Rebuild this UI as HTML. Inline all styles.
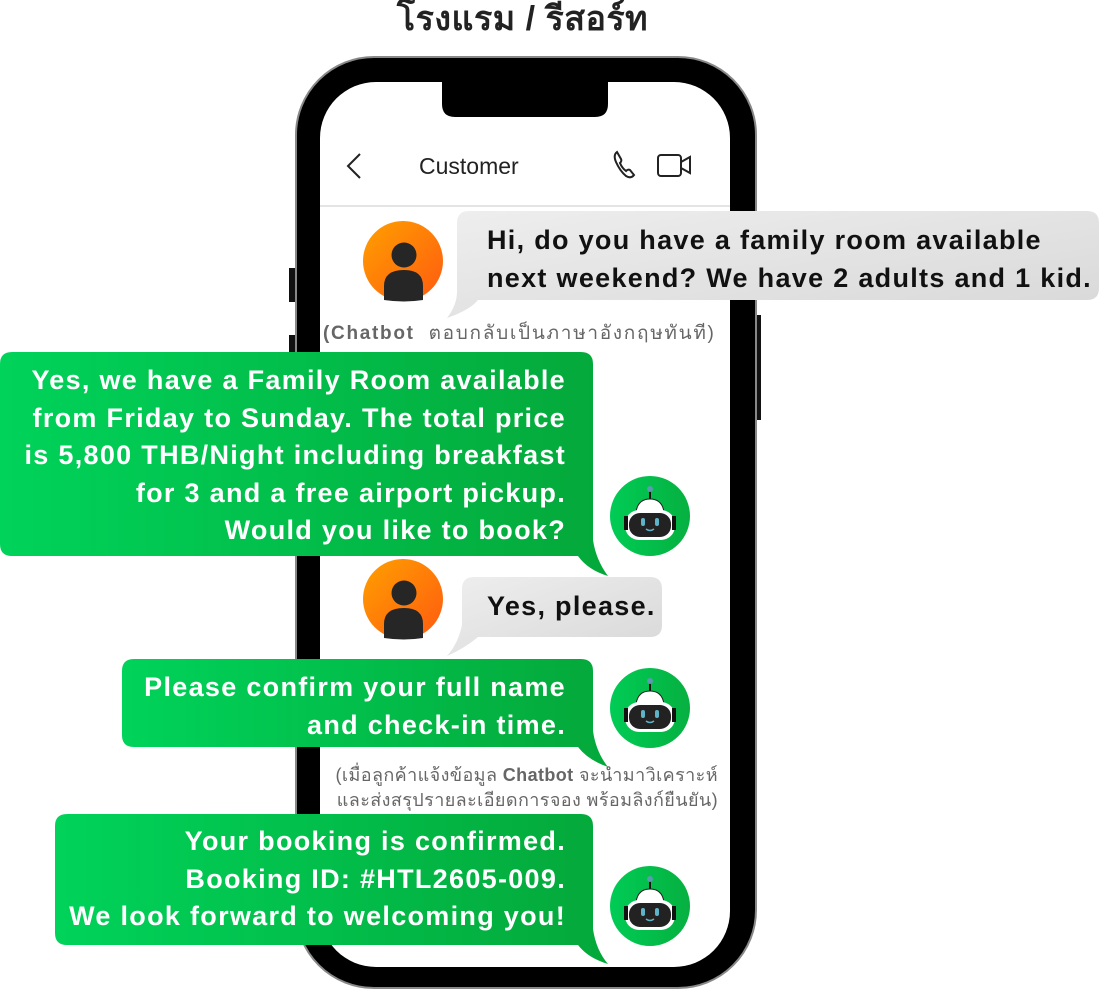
<!DOCTYPE html>
<html><head><meta charset="utf-8"><style>
html,body{margin:0;padding:0;background:#fff;}
body{width:1100px;height:996px;position:relative;overflow:hidden;font-family:"Liberation Sans","Noto Sans CJK SC",sans-serif;}
.t{position:absolute;white-space:nowrap;font-weight:bold;font-size:27px;letter-spacing:1.3px;line-height:37.5px;}
.w{color:#fff;text-align:right;}
.k{color:#111;}
.th{position:absolute;white-space:nowrap;color:#666;font-size:18px;line-height:25px;font-family:"Liberation Sans","Noto Sans CJK SC",sans-serif;}
</style></head><body>
<svg width="1100" height="996" style="position:absolute;left:0;top:0">
<defs>
<linearGradient id="g" x1="0" x2="1" y1="0" y2="0"><stop offset="0" stop-color="#00d35a"/><stop offset="1" stop-color="#04a83a"/></linearGradient>
<linearGradient id="gr" x1="0" x2="1" y1="0" y2="1"><stop offset="0" stop-color="#eeeeee"/><stop offset="1" stop-color="#d8d8d8"/></linearGradient>
<linearGradient id="o" x1="0" x2="1" y1="0" y2="1"><stop offset="0" stop-color="#ffa000"/><stop offset="1" stop-color="#ff5a10"/></linearGradient>
<linearGradient id="rg" x1="0" x2="1" y1="0" y2="0"><stop offset="0" stop-color="#00cc55"/><stop offset="1" stop-color="#06b040"/></linearGradient>
</defs>
<rect x="289" y="268" width="8" height="34" fill="#111"/>
<rect x="289" y="335" width="8" height="60" fill="#111"/>
<rect x="753" y="315" width="8" height="105" fill="#111"/>
<rect x="296" y="57" width="460" height="931" rx="78" fill="#000" stroke="#888" stroke-width="2"/>
<rect x="320" y="82" width="410" height="885" rx="56" fill="#fff"/>
<path d="M442 82 H608 V104 Q608 117 595 117 H455 Q442 117 442 104 Z" fill="#000"/>
<line x1="320" y1="206" x2="730" y2="206" stroke="#e4e4e4" stroke-width="2"/>
<path d="M360 154 L348 166 L360 178" fill="none" stroke="#222" stroke-width="2"/>
<path d="M617 152 q-4 3 -1 10 q4 9 10 14 q5 3 8 -1 l-4 -5 q-2 -1 -4 1 q-4 -3 -6 -8 q2 -2 1 -4 z" fill="none" stroke="#222" stroke-width="2"/>
<rect x="658" y="155" width="23" height="21" rx="3" fill="none" stroke="#222" stroke-width="2"/>
<path d="M681 162 l9 -5 v16 l-9 -5" fill="none" stroke="#222" stroke-width="2"/>
<path d="M469 211 H1087 Q1099 211 1099 223 V288 Q1099 300 1087 300 H478 Q470 310 447 318 Q458 304 457 288 V223 Q457 211 469 211 Z" fill="url(#gr)"/>
<path d="M12 352 H581 Q593 352 593 364 V540 Q596 560 608 576 Q588 570 578 556 H12 Q0 556 0 544 V364 Q0 352 12 352 Z" fill="url(#g)"/>
<path d="M474 577 H650 Q662 577 662 589 V625 Q662 637 650 637 H478 Q465 648 447 656 Q458 644 462 625 V589 Q462 577 474 577 Z" fill="url(#gr)"/>
<path d="M134 659 H581 Q593 659 593 671 V731 Q596 752 608 767 Q588 760 578 747 H134 Q122 747 122 735 V671 Q122 659 134 659 Z" fill="url(#g)"/>
<path d="M67 814 H581 Q593 814 593 826 V929 Q596 950 608 964 Q588 958 578 945 H67 Q55 945 55 933 V826 Q55 814 67 814 Z" fill="url(#g)"/>
<g><circle cx="403" cy="261" r="40" fill="url(#o)"/><circle cx="404" cy="255" r="12.5" fill="#262626"/><path d="M384 300 V286 Q384 270 404 270 Q423 270 423 286 V300 Q404 303 384 300 Z" fill="#262626"/></g>
<g transform="translate(0,338)"><circle cx="403" cy="261" r="40" fill="url(#o)"/><circle cx="404" cy="255" r="12.5" fill="#262626"/><path d="M384 300 V286 Q384 270 404 270 Q423 270 423 286 V300 Q404 303 384 300 Z" fill="#262626"/></g>
<g id="rb" transform="translate(650,516)">
<circle r="40" fill="url(#rg)"/>
<line x1="0" y1="-26" x2="0" y2="-12" stroke="#111" stroke-width="2"/><circle cx="0" cy="-27" r="3" fill="#5a9bb0"/>
<path d="M-14 -4 Q-12 -17 0 -17 Q12 -17 14 -4 Z" fill="#fff" stroke="#222" stroke-width="1"/>
<rect x="-25" y="-6" width="50" height="30" rx="14" fill="#fff"/>
<rect x="-26" y="0" width="4" height="14" fill="#111"/><rect x="22" y="0" width="4" height="14" fill="#111"/>
<rect x="-21" y="-3" width="42" height="24" rx="11" fill="#222"/>
<rect x="-9" y="2" width="4" height="8" rx="2" fill="#5fb3c8"/><rect x="5" y="2" width="4" height="8" rx="2" fill="#5fb3c8"/>
<path d="M-4 13 Q0 16 4 13" fill="none" stroke="#5fb3c8" stroke-width="1.5"/>
</g>
<use href="#rb" transform="translate(0,192)"/>
<use href="#rb" transform="translate(0,390)"/>
</svg>
<div class="t" style="left:0;width:1045px;top:0;text-align:center;font-size:34px;letter-spacing:0.5px;line-height:38px;color:#222">โรงแรม / รีสอร์ท</div>
<div style="position:absolute;left:419px;top:153px;font-size:23px;color:#222">Customer</div>
<div class="t k" style="left:487px;top:222px">Hi, do you have a family room available<br>next weekend? We have 2 adults and 1 kid.</div>
<div class="th" style="left:323px;top:321px;font-size:19px;letter-spacing:1.7px"><b>(Chatbot</b>&nbsp; ตอบกลับเป็นภาษาอังกฤษทันที)</div>
<div class="t w" style="right:534px;top:362px">Yes, we have a Family Room available<br>from Friday to Sunday. The total price<br>is 5,800 THB/Night including breakfast<br>for 3 and a free airport pickup.<br>Would you like to book?</div>
<div class="t k" style="left:487px;top:588px">Yes, please.</div>
<div class="t w" style="right:534px;top:669px">Please confirm your full name<br>and check-in time.</div>
<div class="th" style="right:382px;top:763px;text-align:right;letter-spacing:0.4px">(เมื่อลูกค้าแจ้งข้อมูล <b>Chatbot</b> จะนำมาวิเคราะห์<br>และส่งสรุปรายละเอียดการจอง พร้อมลิงก์ยืนยัน)</div>
<div class="t w" style="right:534px;top:823px">Your booking is confirmed.<br>Booking ID: #HTL2605-009.<br>We look forward to welcoming you!</div>
</body></html>
